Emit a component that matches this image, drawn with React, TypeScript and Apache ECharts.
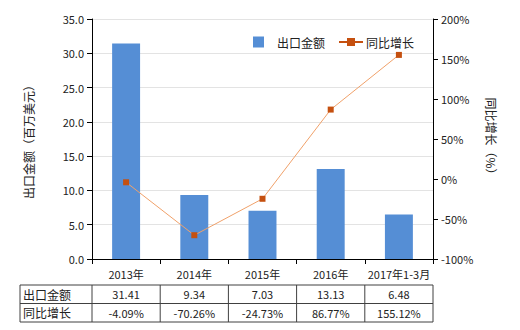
import React, { useEffect, useRef } from "react";
import * as echarts from "echarts";

const categories = ["2013年", "2014年", "2015年", "2016年", "2017年1-3月"];
const exportValues = [31.41, 9.34, 7.03, 13.13, 6.48];
const growthValues = [-4.09, -70.26, -24.73, 86.77, 155.12];
const exportLabels = ["31.41", "9.34", "7.03", "13.13", "6.48"];
const growthLabels = ["-4.09%", "-70.26%", "-24.73%", "86.77%", "155.12%"];
const seriesNames = ["出口金额", "同比增长"];

const FONT = "'Noto Sans CJK SC', 'Noto Sans', sans-serif";

export default function App() {
  const ref = useRef<HTMLDivElement>(null);
  useEffect(() => {
    if (!ref.current) return;
    const chart = echarts.init(ref.current, undefined, { renderer: "svg" });
    const gridLeft = 92;
    const gridRight = 433;
    const colW = (gridRight - gridLeft) / categories.length;
    const tableLeft = 20;
    const rowTop = 285;
    const rowH = 18.5;
    const graphics: any[] = [];
    const lineStyle = { stroke: "#404040", lineWidth: 1 };
    for (let r = 0; r <= 2; r++) {
      graphics.push({
        type: "line",
        shape: { x1: tableLeft, y1: rowTop + r * rowH, x2: gridRight, y2: rowTop + r * rowH },
        style: lineStyle,
      });
    }
    const xs = [tableLeft];
    for (let i = 0; i <= categories.length; i++) xs.push(gridLeft + i * colW);
    xs.forEach((x) =>
      graphics.push({
        type: "line",
        shape: { x1: x, y1: rowTop, x2: x, y2: rowTop + 2 * rowH },
        style: lineStyle,
      })
    );
    const rows = [exportLabels, growthLabels];
    rows.forEach((row, r) => {
      const cy = rowTop + r * rowH + rowH / 2;
      graphics.push({
        type: "text",
        x: tableLeft + 3,
        y: cy,
        style: { text: seriesNames[r], font: `12px ${FONT}`, fill: "#222", textAlign: "left", textVerticalAlign: "middle" },
      });
      row.forEach((t, i) => {
        graphics.push({
          type: "text",
          x: gridLeft + colW * (i + 0.5),
          y: cy,
          style: { text: t, font: `11px ${FONT}`, fill: "#222", textAlign: "center", textVerticalAlign: "middle" },
        });
      });
    });

    chart.setOption({
      animation: false,
      backgroundColor: "#fff",
      textStyle: { fontFamily: FONT },
      grid: { left: gridLeft, right: 520 - gridRight, top: 19, bottom: 71, containLabel: false },
      legend: [
        {
          data: [seriesNames[0]],
          left: 248,
          top: 31,
          itemWidth: 11,
          itemHeight: 11,
          icon: "rect",
          textStyle: { fontSize: 12, color: "#222", padding: [0, 0, 0, 8] },
        },
        {
          data: [seriesNames[1]],
          left: 333,
          top: 31,
          itemWidth: 24,
          itemHeight: 10,
          itemGap: 5,
          lineStyle: { color: "#c5500f", width: 2 },
          itemStyle: { color: "#c5500f" },
          textStyle: { fontSize: 12, color: "#222", padding: [0, 0, 0, -2] },
        },
      ],
      xAxis: {
        type: "category",
        data: categories,
        axisLine: { lineStyle: { color: "#000" } },
        axisTick: { show: true, alignWithLabel: false, lineStyle: { color: "#000" } },
        axisLabel: { color: "#222", fontSize: 11, margin: 9, interval: 0 },
      },
      yAxis: [
        {
          type: "value",
          min: 0,
          max: 35,
          interval: 5,
          name: "出口金额（百万美元）",
          nameLocation: "middle",
          nameGap: 58,
          nameTextStyle: { fontSize: 12, color: "#222" },
          axisLine: { show: true, lineStyle: { color: "#000" } },
          axisTick: { show: true, lineStyle: { color: "#000" } },
          axisLabel: { color: "#222", fontSize: 11, formatter: (v: number) => v.toFixed(1) },
          splitLine: { lineStyle: { color: "#e3e3e3" } },
        },
        {
          type: "value",
          min: -100,
          max: 200,
          interval: 50,
          position: "right",
          name: "同比增长（%）",
          nameLocation: "middle",
          nameGap: 52,
          nameRotate: -90,
          nameTextStyle: { fontSize: 12, color: "#222" },
          axisLine: { show: true, lineStyle: { color: "#000" } },
          axisTick: { show: true, lineStyle: { color: "#000" } },
          axisLabel: { color: "#222", fontSize: 11, formatter: "{value}%" },
          splitLine: { show: false },
        },
      ],
      series: [
        {
          name: seriesNames[0],
          type: "bar",
          data: exportValues,
          barWidth: "41%",
          itemStyle: { color: "#558ed5" },
        },
        {
          name: seriesNames[1],
          type: "line",
          yAxisIndex: 1,
          data: growthValues,
          symbol: "rect",
          symbolSize: 6,
          lineStyle: { color: "#f0a16a", width: 1 },
          itemStyle: { color: "#c5500f" },
        },
      ],
      graphic: graphics,
    });
    return () => chart.dispose();
  }, []);
  return <div ref={ref} style={{ position: "fixed", left: 0, top: 0, width: 520, height: 330 }} />;
}
